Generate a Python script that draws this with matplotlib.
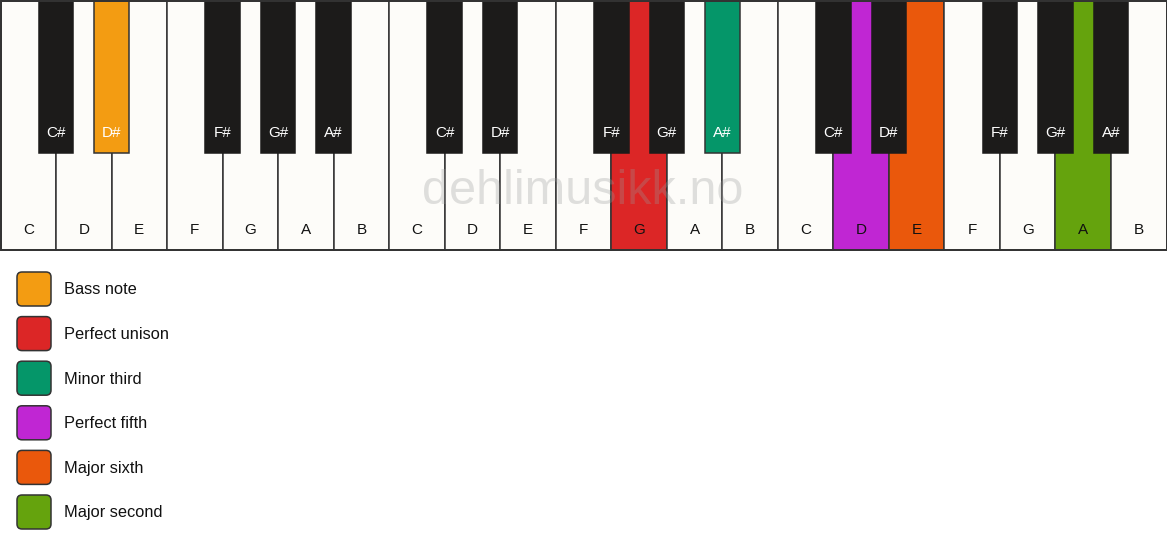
import matplotlib
matplotlib.use("Agg")
import matplotlib.pyplot as plt
from matplotlib.patches import Rectangle, FancyBboxPatch

# ---- data ----
white_notes = ["C", "D", "E", "F", "G", "A", "B"] * 3
black_notes = ["C#", "D#", None, "F#", "G#", "A#", None] * 3  # black key after each white key
# highlighted keys: index in its row -> colour
highlight_white = {11: "#DC2626", 15: "#C026D3", 16: "#EA580C", 19: "#65A30D"}
highlight_black = {1: "#F39C12", 12: "#059669"}
legend_labels = ["Bass note", "Perfect unison", "Minor third", "Perfect fifth", "Major sixth", "Major second"]
legend_colors = ["#F39C12", "#DC2626", "#059669", "#C026D3", "#EA580C", "#65A30D"]
watermark = "dehlimusikk.no"

# ---- style ----
W_PX, H_PX = 1167, 550
fig = plt.figure(figsize=(W_PX / 100, H_PX / 100), dpi=100)
fig.patch.set_facecolor("white")
ax = fig.add_axes([0, 0, 1, 1])
ax.set_xlim(0, W_PX)
ax.set_ylim(H_PX, 0)
ax.axis("off")

font = ["Liberation Sans", "DejaVu Sans"]
kb_top, kb_bot = 0.5, 249.5
wk = (W_PX - 1) / len(white_notes)
bk_w, bk_h = 34.5, 153
edge = "#333333"
lw = 1.1

# white keys
for i, name in enumerate(white_notes):
    fc = highlight_white.get(i, "#FDFCF9")
    ax.add_patch(Rectangle((0.5 + i * wk, kb_top), wk, kb_bot - kb_top,
                           facecolor=fc, edgecolor=edge, linewidth=lw, zorder=1))
    ax.text(0.5 + (i + 0.5) * wk, 230, name, ha="center", va="center",
            fontsize=11, family=font, color="#111111", zorder=5)

# black keys
for i, name in enumerate(black_notes):
    if name is None or i == len(black_notes) - 1:
        continue
    cx = 0.5 + (i + 1) * wk
    fc = highlight_black.get(i, "#1C1B1A")
    ec = edge if i in highlight_black else "#1C1B1A"
    ax.add_patch(Rectangle((cx - bk_w / 2, kb_top), bk_w, bk_h - kb_top,
                           facecolor=fc, edgecolor=ec, linewidth=lw, zorder=3))
    ax.text(cx, 133, name, ha="center", va="center", fontsize=11,
            family=font, color="white", zorder=5)

# keyboard outer border
ax.add_patch(Rectangle((0.5, kb_top), W_PX - 1, kb_bot - kb_top, facecolor="none",
                       edgecolor=edge, linewidth=1.4, zorder=4))

# watermark
ax.text(583, 192, watermark, ha="center", va="center", fontsize=35,
        family=font, color="#999999", alpha=0.3, zorder=6)

# legend
for j, (lab, col) in enumerate(zip(legend_labels, legend_colors)):
    cy = 289 + j * 44.6
    ax.add_patch(FancyBboxPatch((17 + 5, cy - 17 + 5), 34 - 10, 34 - 10,
                                boxstyle="round,pad=5", facecolor=col,
                                edgecolor=edge, linewidth=lw, zorder=3))
    ax.text(64, cy + 1, lab, ha="left", va="center", fontsize=11.8,
            family=font, color="#111111")

fig.savefig("out.png", dpi=100, facecolor="white")
